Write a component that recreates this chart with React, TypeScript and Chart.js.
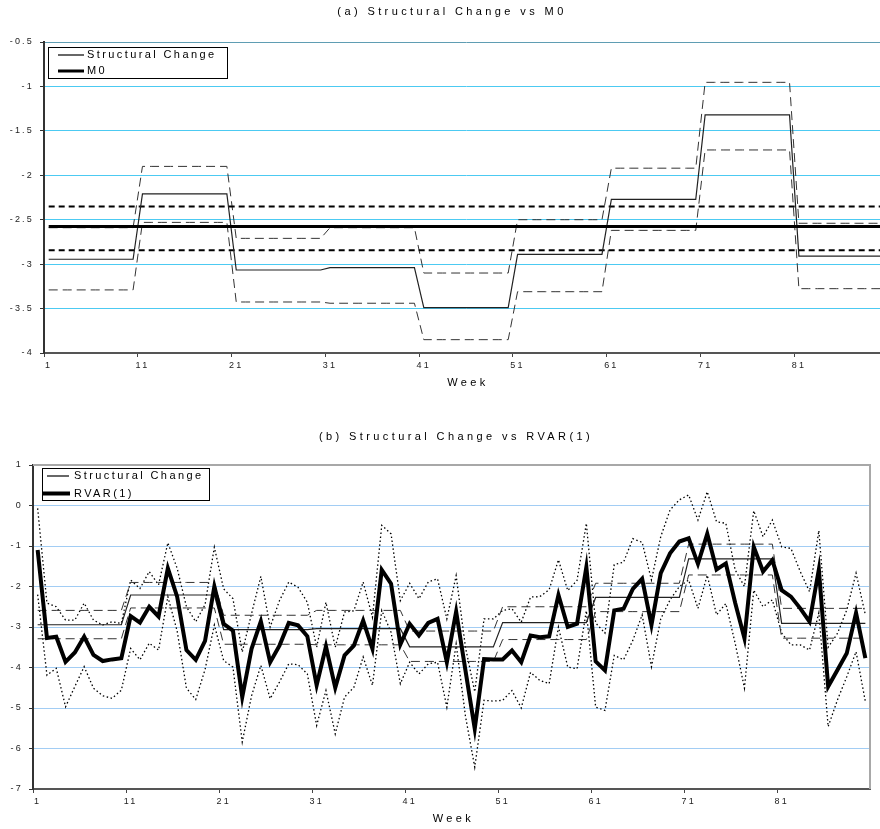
import React, { useEffect, useRef } from 'react';
import { Chart, registerables } from 'chart.js';

Chart.register(...registerables);

// ---------- data ----------
const WEEKS: string[] = Array.from({ length: 90 }, (_, i) => String(i + 1));

// structural change regimes (first week of each regime)
const REGIME_START = [1, 11, 21, 31, 41, 51, 61, 71, 81];
const SC_MEAN = [-2.945, -2.21, -3.066, -3.04, -3.49, -2.89, -2.27, -1.32, -2.91];
const SC_UPPER = [-2.59, -1.9, -2.71, -2.59, -3.1, -2.5, -1.92, -0.954, -2.54];
const SC_LOWER = [-3.29, -2.53, -3.426, -3.44, -3.85, -3.31, -2.62, -1.715, -3.276];

const M0_LEVEL = -2.575;
const M0_UPPER = -2.35;
const M0_LOWER = -2.845;

const RVAR = [
  -1.1, -3.27, -3.24, -3.86, -3.63, -3.24, -3.69, -3.84, -3.8, -3.77,
  -2.73, -2.89, -2.5, -2.74, -1.55, -2.25, -3.57, -3.81, -3.34, -2.0,
  -2.92, -3.09, -4.73, -3.54, -2.86, -3.87, -3.46, -2.9, -2.96, -3.23,
  -4.44, -3.48, -4.5, -3.7, -3.46, -2.84, -3.54, -1.59, -1.93, -3.43,
  -2.92, -3.21, -2.9, -2.8, -3.87, -2.62, -4.07, -5.51, -3.79, -3.8,
  -3.8, -3.58, -3.87, -3.21, -3.25, -3.23, -2.21, -3.0, -2.92, -1.52,
  -3.85, -4.07, -2.59, -2.55, -2.06, -1.81, -2.95, -1.67, -1.18, -0.89,
  -0.81, -1.44, -0.7, -1.58, -1.43, -2.4, -3.28, -1.02, -1.63, -1.35,
  -2.09, -2.25, -2.54, -2.87, -1.58, -4.47, -4.06, -3.65, -2.65, -3.77,
];

const RVAR_UPPER = [
  -0.07, -2.41, -2.5, -2.83, -2.83, -2.41, -2.83, -2.95, -2.87, -2.91,
  -1.84, -2.05, -1.63, -1.96, -0.92, -1.55, -2.5, -2.87, -2.45, -1.03,
  -2.06, -2.3, -3.62, -2.67, -1.75, -3.0, -2.35, -1.89, -2.02, -2.39,
  -3.5, -2.39, -3.5, -2.63, -2.6, -1.89, -2.76, -0.49, -0.7, -2.35,
  -1.92, -2.3, -1.89, -1.81, -2.8, -1.73, -3.5, -4.6, -2.8, -2.8,
  -2.59, -2.55, -2.88, -2.26, -2.25, -2.08, -1.34, -2.1, -1.85, -0.44,
  -2.9, -3.15, -1.46, -1.4, -0.82, -0.91, -1.84, -0.77, -0.11, 0.14,
  0.26, -0.36, 0.34, -0.4, -0.44, -1.59, -2.0, -0.13, -0.77, -0.36,
  -1.02, -1.06, -1.63, -2.13, -0.62, -3.5, -3.16, -2.58, -1.67, -2.7,
];

const RVAR_LOWER = [
  -2.2, -4.19, -4.02, -4.97, -4.47, -3.98, -4.51, -4.7, -4.76, -4.56,
  -3.53, -3.81, -3.4, -3.57, -2.25, -3.1, -4.51, -4.79, -4.05, -2.95,
  -3.83, -3.99, -5.84, -4.7, -3.95, -4.77, -4.36, -3.91, -3.93, -4.16,
  -5.43, -4.57, -5.64, -4.73, -4.49, -3.74, -4.44, -2.59, -3.13, -4.4,
  -3.87, -4.16, -3.91, -3.87, -4.98, -3.42, -5.2, -6.46, -4.81, -4.83,
  -4.81, -4.57, -5.0, -4.12, -4.32, -4.4, -3.0, -3.99, -4.03, -2.6,
  -4.98, -5.06, -3.7, -3.81, -3.33, -2.7, -3.98, -2.8, -2.33, -2.0,
  -1.84, -2.54, -1.72, -2.7, -2.42, -3.4, -4.51, -2.09, -2.5, -2.33,
  -3.15, -3.44, -3.44, -3.57, -2.65, -5.46, -4.8, -4.23, -3.61, -4.84,
];

const X_TICK_EVERY = 10;

// ---------- helpers ----------
const stepSeries = (vals: number[]) =>
  WEEKS.map((w) => {
    const wk = Number(w);
    let idx = 0;
    REGIME_START.forEach((s, i) => {
      if (wk >= s) idx = i;
    });
    return vals[idx];
  });
const flatSeries = (v: number) => WEEKS.map(() => v);

const FONT = '"Liberation Sans", Arial, sans-serif';

const line = (label: string, data: number[], width: number, dash: number[] = [], color = '#000') => ({
  label,
  data,
  borderColor: color,
  backgroundColor: color,
  borderWidth: width,
  borderDash: dash,
  pointRadius: 0,
  pointHoverRadius: 0,
  fill: false,
  tension: 0,
});

const decorPlugin = {
  id: 'decor',
  beforeDraw(chart: any) {
    chart.ctx.letterSpacing = '2.2px';
  },
  afterDraw(chart: any, _args: any, opts: any) {
    const ctx = chart.ctx as CanvasRenderingContext2D;
    const ca = chart.chartArea;
    ctx.save();
    if (opts.frame) {
      ctx.strokeStyle = opts.frame;
      ctx.lineWidth = 2;
      ctx.beginPath();
      ctx.moveTo(ca.left, ca.top);
      ctx.lineTo(ca.right, ca.top);
      ctx.lineTo(ca.right, ca.bottom);
      ctx.stroke();
    }
    ctx.fillStyle = '#000';
    ctx.font = `11px ${FONT}`;
    (ctx as any).letterSpacing = '3.4px';
    ctx.textAlign = 'center';
    ctx.textBaseline = 'middle';
    ctx.fillText(opts.title, opts.titleX, opts.titleY);
    ctx.fillText('Week', (ca.left + ca.right) / 2 + 2, ca.bottom + 30);

    // legend
    const lg = opts.legend;
    ctx.fillStyle = '#fff';
    ctx.fillRect(lg.x, lg.y, lg.w, lg.h);
    ctx.strokeStyle = '#000';
    ctx.lineWidth = 1;
    ctx.setLineDash([]);
    ctx.strokeRect(Math.round(lg.x) + 0.5, Math.round(lg.y) + 0.5, Math.round(lg.w), Math.round(lg.h));
    (ctx as any).letterSpacing = '2.4px';
    ctx.textAlign = 'left';
    ctx.fillStyle = '#000';
    lg.items.forEach((it: any, i: number) => {
      const ds = chart.data.datasets[it.ds];
      const y = lg.rows[i];
      ctx.strokeStyle = '#000';
      ctx.lineWidth = ds.borderWidth;
      ctx.beginPath();
      ctx.moveTo(it.x0, y);
      ctx.lineTo(it.x1, y);
      ctx.stroke();
      ctx.fillText(ds.label, lg.textX, y);
    });
    ctx.restore();
  },
};

const xScale = (height: number) => ({
  type: 'category' as const,
  offset: true,
  afterFit: (s: any) => {
    s.height = height;
  },
  grid: {
    drawOnChartArea: false,
    drawTicks: true,
    offset: true,
    tickLength: 4,
    tickWidth: 1,
    tickColor: (c: any) => (c.index % X_TICK_EVERY === 0 ? '#444' : 'rgba(0,0,0,0)'),
  },
  border: { display: true, color: '#555', width: 2 },
  ticks: {
    autoSkip: false,
    maxRotation: 0,
    minRotation: 0,
    padding: 3,
    color: '#222',
    font: { family: FONT, size: 9 },
    callback: function (this: any, val: any, index: number) {
      return index % X_TICK_EVERY === 0 ? this.getLabelForValue(val) : '';
    },
  },
});

const yScale = (width: number, min: number, max: number, step: number, gridColor: any) => ({
  type: 'linear' as const,
  min,
  max,
  afterFit: (s: any) => {
    s.width = width;
  },
  grid: {
    color: gridColor,
    lineWidth: 1,
    drawTicks: true,
    tickLength: 4,
    tickColor: '#333',
  },
  border: { display: true, color: '#333', width: 2 },
  ticks: {
    stepSize: step,
    padding: 6,
    color: '#222',
    font: { family: FONT, size: 9 },
    callback: (v: any) => String(Math.round(Number(v) * 10) / 10),
  },
});

function TopChart() {
  const ref = useRef<HTMLCanvasElement>(null);
  useEffect(() => {
    const chart = new Chart(ref.current as HTMLCanvasElement, {
      type: 'line',
      data: {
        labels: WEEKS,
        datasets: [
          line('M0', flatSeries(M0_LEVEL), 3),
          line('Structural Change', stepSeries(SC_MEAN), 1.2, [], '#222'),
          line('M0 upper', flatSeries(M0_UPPER), 2, [6, 4]),
          line('M0 lower', flatSeries(M0_LOWER), 2, [6, 4]),
          line('SC upper', stepSeries(SC_UPPER), 1, [9, 5], '#333'),
          line('SC lower', stepSeries(SC_LOWER), 1, [9, 5], '#333'),
        ],
      },
      options: {
        responsive: false,
        animation: false,
        devicePixelRatio: 1,
        layout: { padding: { top: 42, right: 2, left: 0, bottom: 0 } },
        plugins: {
          legend: { display: false },
          tooltip: { enabled: false },
          decor: {
            title: '(a) Structural Change vs M0',
            titleX: 452,
            titleY: 12,
            legend: {
              x: 48,
              y: 47,
              w: 179,
              h: 31,
              rows: [55, 71],
              textX: 87,
              items: [
                { ds: 1, x0: 58, x1: 84 },
                { ds: 0, x0: 58, x1: 84 },
              ],
            },
          },
        } as any,
        scales: {
          x: xScale(47),
          y: yScale(44, -4, -0.5, 0.5, (c: any) =>
            c.tick && c.tick.value === -0.5 ? '#5f9db3' : '#4ccaf2'
          ),
        } as any,
      },
      plugins: [decorPlugin],
    });
    return () => chart.destroy();
  }, []);
  return (
    <canvas
      ref={ref}
      width={890}
      height={400}
      style={{ position: 'absolute', left: 0, top: 0, width: 890, height: 400 }}
    />
  );
}

function BottomChart() {
  const ref = useRef<HTMLCanvasElement>(null);
  useEffect(() => {
    const chart = new Chart(ref.current as HTMLCanvasElement, {
      type: 'line',
      data: {
        labels: WEEKS,
        datasets: [
          line('RVAR(1)', RVAR, 4),
          line('Structural Change', stepSeries(SC_MEAN), 1.2, [], '#222'),
          line('SC upper', stepSeries(SC_UPPER), 1, [9, 5], '#333'),
          line('SC lower', stepSeries(SC_LOWER), 1, [9, 5], '#333'),
          line('RVAR upper', RVAR_UPPER, 1.3, [1.5, 2.5]),
          line('RVAR lower', RVAR_LOWER, 1.3, [1.5, 2.5]),
        ],
      },
      options: {
        responsive: false,
        animation: false,
        devicePixelRatio: 1,
        layout: { padding: { top: 40, right: 10, left: 0, bottom: 0 } },
        plugins: {
          legend: { display: false },
          tooltip: { enabled: false },
          decor: {
            frame: '#a8a8a8',
            title: '(b) Structural Change vs RVAR(1)',
            titleX: 456,
            titleY: 12,
            legend: {
              x: 42,
              y: 43,
              w: 167,
              h: 32,
              rows: [51, 68.5],
              textX: 74,
              items: [
                { ds: 1, x0: 47, x1: 69 },
                { ds: 0, x0: 43, x1: 70 },
              ],
            },
          },
        } as any,
        scales: {
          x: xScale(40),
          y: yScale(33, -7, 1, 1, '#a2cdf4'),
        } as any,
      },
      plugins: [decorPlugin],
    });
    return () => chart.destroy();
  }, []);
  return (
    <canvas
      ref={ref}
      width={880}
      height={404}
      style={{ position: 'absolute', left: 0, top: 425, width: 880, height: 404 }}
    />
  );
}

export default function App() {
  return (
    <div
      style={{
        position: 'fixed',
        left: 0,
        top: 0,
        width: 880,
        height: 829,
        overflow: 'hidden',
        background: '#fff',
      }}
    >
      <TopChart />
      <BottomChart />
    </div>
  );
}
